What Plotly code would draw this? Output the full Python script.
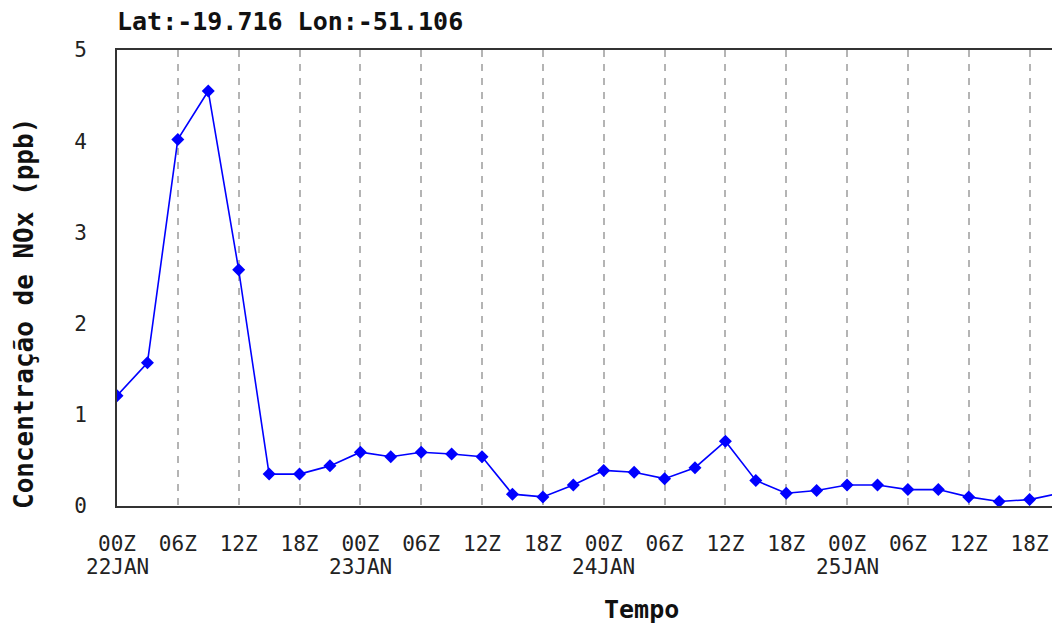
import plotly.graph_objects as go

# Data: hours since 22JAN 00Z, NOx concentration (ppb)
hours = [0, 3, 6, 9, 12, 15, 18, 21, 24, 27, 30, 33, 36, 39, 42, 45,
         48, 51, 54, 57, 60, 63, 66, 69, 72, 75, 78, 81, 84, 87, 90, 93]
nox = [1.21, 1.57, 4.02, 4.55, 2.59, 0.35, 0.35, 0.44, 0.59, 0.54, 0.59, 0.57,
       0.54, 0.13, 0.10, 0.23, 0.39, 0.37, 0.30, 0.42, 0.71, 0.28, 0.14, 0.17,
       0.23, 0.23, 0.18, 0.18, 0.10, 0.05, 0.07, 0.14]

tick_hours = [0, 6, 12, 18, 24, 30, 36, 42, 48, 54, 60, 66, 72, 78, 84, 90]
tick_times = ["00Z", "06Z", "12Z", "18Z"] * 4
date_hours = [0, 24, 48, 72]
date_labels = ["22JAN", "23JAN", "24JAN", "25JAN"]

y_ticks = [0, 1, 2, 3, 4, 5]

title_text = "Lat:-19.716 Lon:-51.106"
y_title = "Concentração de NOx (ppb)"
x_title = "Tempo"

MONO = "DejaVu Sans Mono"

fig = go.Figure()
fig.add_trace(go.Scatter(
    x=hours, y=nox, mode="lines+markers",
    line=dict(color="#0000ff", width=1.6),
    marker=dict(symbol="diamond", size=10, color="#0000ff"),
    showlegend=False,
))

# page body has an 8px margin, so the figure is laid out 8px up/left
OFF = 8
W, H = 1060 - OFF, 623 - OFF
L, T, R = 117 - OFF, 50 - OFF, 0
B = H - (506 - OFF)
pw = W - L - R
ph = H - T - B

fig.update_layout(
    width=W, height=H,
    margin=dict(l=L, r=R, t=T, b=B, pad=0, autoexpand=False),
    paper_bgcolor="white", plot_bgcolor="white",
    title=dict(text="<b>" + title_text + "</b>", x=L / W, xanchor="left",
               xref="container", y=1 - (21 - OFF) / H, yanchor="middle",
               yref="container",
               font=dict(family=MONO, size=25, color="#111111")),
    font=dict(family=MONO, color="#222222"),
)
fig.update_xaxes(
    range=[0, 93], tickvals=tick_hours, ticktext=tick_times,
    tickfont=dict(family=MONO, size=21, color="#222222"),
    showgrid=True, gridcolor="#b4b4b4", gridwidth=1.5, griddash="7px,7px",
    showline=True, linecolor="#333333", linewidth=2, mirror=True,
    ticks="", ticklabelstandoff=18, zeroline=False, automargin=False,
)
fig.update_yaxes(
    range=[0, 5], tickvals=y_ticks,
    tickfont=dict(family=MONO, size=21, color="#222222"),
    showgrid=False, showline=True, linecolor="#333333", linewidth=2,
    ticks="", ticklabelstandoff=24, zeroline=False, automargin=False,
)
for hx, d in zip(date_hours, date_labels):
    fig.add_annotation(text=d, xref="x", yref="paper", x=hx,
                       y=-(567 - 506) / ph, showarrow=False,
                       xanchor="center", yanchor="middle",
                       font=dict(family=MONO, size=21, color="#222222"))
fig.add_annotation(text="<b>" + y_title + "</b>", textangle=-90,
                   xref="paper", yref="paper",
                   x=-(117 - 24) / pw, y=(506 - 314) / ph,
                   showarrow=False, xanchor="center", yanchor="middle",
                   font=dict(family=MONO, size=26, color="#111111"))
fig.add_annotation(text="<b>" + x_title + "</b>",
                   xref="paper", yref="paper",
                   x=(641 - 117) / pw, y=-(609 - 506) / ph,
                   showarrow=False, xanchor="center", yanchor="middle",
                   font=dict(family=MONO, size=25, color="#111111"))

fig.write_html("out.html")
